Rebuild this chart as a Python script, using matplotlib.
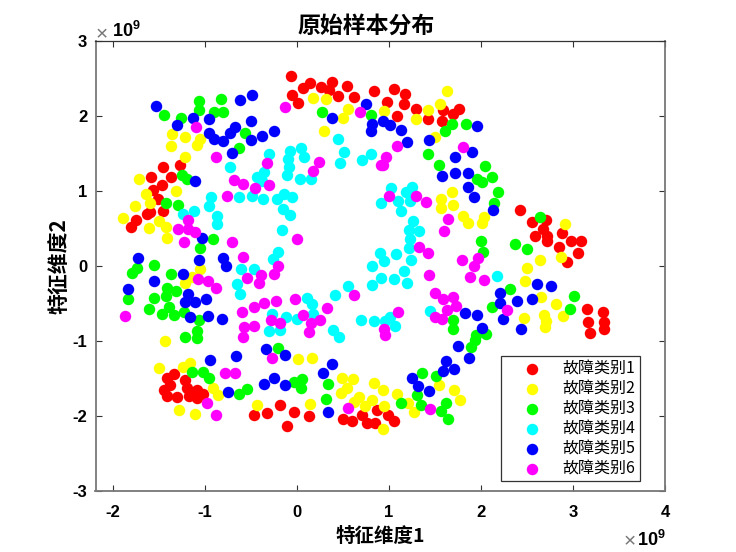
import matplotlib
matplotlib.use("Agg")
import matplotlib.pyplot as plt

plt.rcParams['font.family'] = ['Noto Sans CJK SC', 'DejaVu Sans']

# 横纵坐标单位都是 1e9
x1 = [-0.06, 0.07, 0.14, 0.26, 0.38, 0.35, 0.54, 0.45, 0.62, 0.84, -0.05, 0.01, -1.45, -1.58, -1.37, -1.27, -1.46, -1.56, -1.51, -1.45, -1.59, -1.63, -1.75, -1.80,
      1.05, 1.17, 0.98, 1.16, 1.09, 1.29, 1.42, 1.57, 1.59, 1.69, 1.76, 2.42, 2.55, 2.71, 2.67, 2.58, 2.72, 2.72, 2.88, 2.85, 2.98, 3.08, 3.05, 2.93,
      -1.41, -1.33, -1.38, -1.44, -1.41, -1.30, -1.22, -1.19, -1.17, -1.09, -1.08, -1.02, -0.47, -0.33, -0.18, -0.03, 0.13, -0.11, 0.50, 0.60, 0.71, 0.76, 0.85, 0.87,
      0.99, 1.05, 3.15, 3.32, 3.16, 3.33, 3.33, 3.18]
y1 = [2.53, 2.38, 2.44, 2.39, 2.46, 2.35, 2.40, 2.27, 2.25, 2.33, 2.28, 2.17, 1.32, 1.19, 1.19, 1.35, 1.08, 1.01, 0.90, 0.74, 0.72, 0.70, 0.62, 0.52,
      2.36, 2.29, 2.19, 2.16, 2.00, 2.09, 1.96, 1.94, 2.08, 2.03, 2.10, 0.75, 0.59, 0.61, 0.49, 0.40, 0.40, 0.33, 0.44, 0.25, 0.33, 0.33, 0.17, 0.05,
      -1.49, -1.44, -1.59, -1.65, -1.73, -1.75, -1.52, -1.62, -1.73, -1.65, -1.76, -1.71, -1.99, -1.96, -1.85, -1.94, -2.00, -2.13, -2.04, -2.07, -1.99, -2.09, -2.09, -1.92,
      -1.99, -2.06, -0.57, -0.61, -0.74, -0.74, -0.84, -0.89]

x2 = [0.18, 0.32, 0.55, 0.50, 0.29, -1.36, -1.21, -1.37, -1.09, -1.05, -1.22, -1.71, -1.31, -1.64, -1.59, -1.76, -1.89, -1.61, -1.50, -1.42, -1.41, -1.05,
      1.63, 1.55, 1.42, 1.29, 0.95, 1.50, 1.68, 1.56, 1.56, 1.70, 1.80, 1.86, 2.03, 2.01, 2.91, 2.87, 2.64, 2.50,
      -1.22, -1.14, -1.43, -1.50, -1.24, -1.16, -0.91, -0.86, -1.28, -1.11, -0.43, 0.01, 0.16, 0.14, 0.49, 0.61, 0.54, 0.48, 0.67, 0.62, 0.82, 0.74, 0.84, 0.93, 0.95, 0.94,
      1.09, 1.21, 1.27, 1.54, 1.71, 1.77, 2.48, 2.65, 2.81, 2.89, 2.68, 2.71, 2.69, 2.47]
y2 = [2.24, 2.22, 2.10, 1.98, 1.80, 1.76, 1.72, 1.60, 1.62, 1.70, 1.45, 1.16, 1.00, 0.96, 0.84, 0.80, 0.64, 0.51, 0.60, 0.52, 0.38, -0.04,
      2.34, 2.16, 2.08, 1.96, 2.07, 1.72, 0.99, 0.89, 0.78, 0.82, 0.67, 0.58, 0.65, 0.58, 0.56, 0.12, 0.08, -0.03,
      -0.22, -0.14, -1.00, -1.36, -1.34, -1.29, -1.62, -1.72, -1.92, -1.97, -1.85, -1.24, -1.22, -1.84, -1.49, -1.50, -1.62, -1.69, -1.74, -1.81, -1.79, -1.86, -1.56, -1.65, -1.86, -2.17,
      -1.71, -1.83, -1.94, -1.59, -1.65, -1.78, -0.20, -0.41, -0.51, -0.66, -0.65, -0.73, -0.81, -0.69]

x3 = [-1.06, -0.82, -1.06, -1.44, -1.26, -0.90, -0.80, -0.56, -0.63, 0.27, 0.80, -1.25, -1.19, -1.42, -1.29, -0.91, -1.05, -1.74, -1.55, -1.37, -1.79,
      1.68, 1.61, 1.84, 1.42, 1.54, 2.04, 2.12, 1.95, 2.01, 2.18, 2.14, 2.64, 2.00, 2.02, 2.37, 2.50,
      -1.83, -1.41, -1.31, -1.42, -1.55, -1.61, -1.39, -1.47, -1.34, -1.23, -1.06, -1.09, -1.21, -1.09, -0.21, -1.14, -1.02, -0.95, -0.63, -0.54, -0.03, 0.06, 0.04, 0.34, 0.32,
      2.31, 2.12, 3.01, 2.97, 1.69, 1.70, 2.05, 1.94, 1.93, 1.89, 1.36, 1.51, 1.30, 1.13, 1.35, 1.62, 1.56, 1.64]
y3 = [2.20, 2.23, 2.08, 2.02, 1.98, 2.06, 2.06, 1.78, 1.58, 2.05, 2.01, 1.22, 1.16, 0.84, 0.81, 0.36, 0.24, -0.03, 0.01, -0.10, -0.09,
      1.90, 1.80, 1.90, 1.50, 1.35, 1.34, 1.19, 1.16, 1.12, 0.99, 0.84, 0.66, 0.33, 0.19, 0.30, 0.23,
      -0.44, -0.29, -0.33, -0.40, -0.43, -0.57, -0.54, -0.64, -0.65, -0.61, -0.72, -0.86, -0.95, -0.96, -1.09, -1.41, -1.41, -1.49, -1.70, -1.64, -1.55, -1.50, -1.63, -1.57, -1.77,
      -0.30, -0.55, -0.40, -0.57, -0.72, -0.84, -0.91, -0.92, -0.99, -1.08, -1.42, -1.47, -1.72, -1.83, -1.85, -1.83, -1.93, -2.04]

x4 = [0.45, -0.30, -0.07, 0.04, 0.08, -0.10, -0.09, -0.11, 0.03, 0.15, 0.51, 0.47, 0.71, 0.80, -0.73, -0.36, -0.43, -0.38, -0.63, -0.49, -0.37, -0.93, -0.95, -0.22, -0.14, -0.05, -0.15, -0.08, -1.12, -1.24, -0.87, -0.87, -0.16, -0.20, -0.26, -0.61, -0.47, 0.91, 0.90, 0.82,
      1.02, 1.25, 1.18, 1.23, 1.10, 1.13, 1.26, 1.22, 1.33, 1.23, 1.22, 1.08, 0.95, 1.24, 1.16,
      -0.65, -0.62, -0.27, -0.12, 0.00, 0.11, 0.16, 0.17, -0.30, -0.18, 0.41, 0.56, 0.82, 0.91, 0.70, 0.84, 0.39, 0.46,
      1.05, 1.19, 2.17, 1.45, 0.96, 1.01, 1.07]
y4 = [1.70, 1.50, 1.54, 1.57, 1.46, 1.43, 1.32, 1.22, 1.16, 1.16, 1.52, 1.37, 1.41, 1.49, 1.32, 1.26, 1.19, 1.14, 0.92, 0.93, 0.90, 0.92, 0.80, 0.89, 0.96, 0.92, 0.76, 0.68, 0.73, 0.69, 0.67, 0.56, 0.48, 0.19, 0.09, -0.04, -0.04, 0.84, 0.18, 0.00,
      1.04, 1.06, 0.99, 0.87, 0.87, 0.73, 0.60, 0.48, 0.47, 0.36, 0.24, 0.16, 0.07, 0.08, -0.07,
      -0.24, -0.37, -0.64, -0.68, -0.71, -0.42, -0.51, -0.64, -0.87, -0.85, -0.38, -0.27, -0.25, -0.16, -0.72, -0.73, -0.85, -0.94,
      -0.17, -0.23, -0.13, -0.60, -0.73, -0.68, -0.80]

x5 = [-1.53, -0.49, -0.62, -1.13, -0.96, -1.30, -0.50, -0.67, -0.96, -0.73, -0.90, -0.80, -0.50, -0.38, -0.25, -0.71, -1.11, -1.03, -1.73, -1.06, -0.80, -0.77, 0.38, 0.75, 0.82, 0.80, -1.24,
      0.93, 1.01, 1.13, 1.20, 1.43, 1.96, 1.90, 1.72, 1.57, 1.72, 1.86, 1.86, 1.92, 2.13,
      -1.55, -1.83, -1.18, -1.21, -1.11, -0.99, -1.16, -0.97, -0.81, -0.94, -0.66, -0.34, -0.13, 0.38, 0.28, -0.25, -0.36, -0.13, -0.75, 0.34,
      2.21, 2.21, 2.39, 2.55, 2.61, 2.76, 2.24, 2.43, 1.83, 1.95, 2.01, 1.75, 1.87, 1.62, 1.59, 1.71, 1.25, 1.32, 1.43]
y5 = [2.14, 2.28, 2.21, 1.98, 1.96, 1.88, 1.93, 1.86, 1.77, 1.77, 1.70, 1.67, 1.68, 1.73, 1.80, 1.51, 1.14, 0.38, 0.11, 0.08, 0.11, 0.00, 1.98, 2.16, 1.90, 1.80, -0.11,
      1.93, 1.88, 1.82, 1.65, 1.68, 1.87, 1.52, 1.45, 1.20, 1.24, 1.24, 1.06, 0.92, 0.75,
      -0.20, -0.30, -0.37, -0.48, -0.48, -0.44, -0.68, -0.66, -0.70, -1.25, -1.20, -1.11, -1.19, -1.30, -1.42, -1.49, -1.57, -1.59, -1.68, -1.95,
      -0.36, -0.49, -0.46, -0.44, -0.24, -0.26, -0.71, -0.84, -0.62, -0.65, -0.83, -1.07, -1.22, -1.27, -1.40, -1.37, -1.49, -1.60, -1.67]

x6 = [-0.13, -1.10, -0.88, 0.69, -0.33, 0.24, 0.17, -0.68, -0.58, -0.45, -0.30, -0.76, -1.18, -1.29, -1.18, -1.11, -1.23, -0.70, 0.00, -0.59, -0.21, 0.91,
      1.80, 1.09, 0.97, 0.93, 1.00, 1.29, 1.40, 1.64, 1.60, 1.33, 1.42, 1.79, 1.97, 1.92,
      -1.87, -1.07, -0.97, -0.88, -0.54, -0.39, -0.41, -0.25, 0.62, -0.02, -0.23, -0.36, -0.47, -0.60, 0.33, 0.07, 0.25, 0.15, 0.13, -0.28, -0.18, -0.47, -0.57, -0.58, -0.27, -0.78, -0.67, -0.98, -0.88, 0.55, 0.95, 0.96,
      1.43, 1.88, 2.03, 1.50, 1.59, 1.70, 1.73, 1.63, 1.50, 1.58, 1.10, 2.28, 1.44]
y6 = [2.12, 1.85, 1.46, 2.06, 1.38, 1.39, 1.27, 1.15, 1.09, 1.04, 1.08, 0.94, 0.62, 0.49, 0.49, 0.45, 0.32, 0.32, 0.36, 0.12, 0.00, 1.35,
      1.59, 1.60, 1.45, 1.35, 0.93, 0.93, 0.85, 0.63, 0.47, 0.25, 0.18, 0.08, 0.11, 0.00,
      -0.66, -0.17, -0.20, -0.29, -0.16, -0.12, -0.22, -0.10, -0.38, -0.44, -0.47, -0.49, -0.54, -0.61, -0.56, -0.65, -0.72, -0.76, -0.88, -0.72, -0.76, -0.80, -0.81, -0.95, -1.22, -1.42, -1.42, -1.83, -1.98, -1.89, -0.84, -0.92,
      -0.12, -0.14, -0.18, -0.36, -0.44, -0.41, -0.53, -0.58, -0.68, -0.70, -0.61, -0.58, -1.91]

xs = [x1, x2, x3, x4, x5, x6]
ys = [y1, y2, y3, y4, y5, y6]
labels = ['故障类别1', '故障类别2', '故障类别3', '故障类别4', '故障类别5', '故障类别6']
colors = ['#ff0000', '#ffff00', '#00ff00', '#00ffff', '#0000ff', '#ff00ff']
xticks = [-2, -1, 0, 1, 2, 3, 4]
yticks = [-3, -2, -1, 0, 1, 2, 3]

fig = plt.figure(figsize=(7.36, 5.52), dpi=100)
ax = fig.add_axes([95.5 / 736, (552 - 491) / 552, (665.3 - 95.5) / 736, 450 / 552])

for x, y, lab, c in zip(xs, ys, labels, colors):
    ax.scatter(x, y, s=68, c=c, linewidths=0, label=lab, zorder=3)

ax.set_xlim(-2.187, 4)
ax.set_ylim(-3, 3)
ax.set_xticks(xticks)
ax.set_yticks(yticks)
ax.set_xticklabels([str(t) for t in xticks], family='Liberation Sans', weight='bold', fontsize=12)
ax.set_yticklabels([str(t) for t in yticks], family='Liberation Sans', weight='bold', fontsize=12)
ax.tick_params(direction='in', length=4.3, width=0.8, color='#333333', top=True, right=True)
ax.tick_params(axis='x', pad=10)
ax.tick_params(axis='y', pad=6)
for name in ['left', 'bottom', 'right']:
    ax.spines[name].set_color('#777777')
    ax.spines[name].set_linewidth(1.3)
ax.spines['top'].set_color('#333333')
ax.spines['top'].set_linewidth(0.9)

ax.set_title('原始样本分布', fontsize=16.5, fontweight='bold', x=0.4747, pad=6)
ax.set_xlabel('特征维度1', fontsize=14, fontweight='bold', labelpad=5)
ax.set_ylabel('特征维度2', fontsize=15, fontweight='bold', labelpad=2)

# 左上和右下的 ×10^9
power = r'$\mathregular{10^{9}}$'
ax.text(0.011, 1.0022, '×', transform=ax.transAxes, fontsize=15, color='#777777', ha='center', va='baseline', family='Liberation Sans')
ax.text(0.029, 1.0089, power, transform=ax.transAxes, fontsize=13, ha='left', va='baseline', family='Liberation Sans', weight='bold')
ax.text(0.937, -0.124, '×', transform=ax.transAxes, fontsize=15, color='#777777', ha='center', va='baseline', family='Liberation Sans')
ax.text(1.0, -0.1216, power, transform=ax.transAxes, fontsize=13, ha='right', va='baseline', family='Liberation Sans', weight='bold')

leg = ax.legend(loc='lower left', bbox_to_anchor=(500.7 / 736, (552 - 481.3) / 552), bbox_transform=fig.transFigure,
                fontsize=11.5, frameon=True, fancybox=False, framealpha=1, edgecolor='#333333',
                borderaxespad=0, borderpad=0.24, labelspacing=0.19, handlelength=3.43, handletextpad=0.22, scatterpoints=1)
leg.get_frame().set_linewidth(0.9)

fig.savefig('out.png', dpi=100)
